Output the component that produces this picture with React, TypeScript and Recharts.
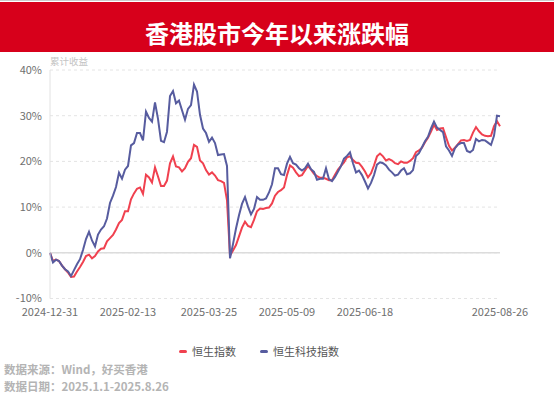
import { LineChart, Line, XAxis, YAxis, CartesianGrid, ReferenceLine, Legend } from 'recharts'

// 恒生指数 (red) and 恒生科技指数 (blue), cumulative return in %, trading days from 2024-12-31
const hsi = [
  0, -1.8, -1.5, -1.8, -2.8, -3.6, -4.3, -5.3, -5.2, -4.1,
  -3.1, -2.0, -0.7, -0.4, -1.2, -0.7, 0.3, 0.9, 1.0, 2.5,
  3.2, 3.9, 5.1, 6.5, 7.2, 9.1, 9.1, 11.7, 13.0, 14.0,
  14.3, 12.9, 17.1, 16.5, 15.4, 18.7, 16.7, 14.6, 14.6, 15.8,
  19.6, 21.1, 18.9, 18.7, 17.8, 18.5, 19.9, 20.7, 23.6, 23.2,
  20.2, 19.6, 18.1, 17.1, 17.6, 16.9, 15.9, 15.7, 15.3, 11.5,
  -0.6, 0.5, 1.7, 3.6, 5.5, 6.8, 5.9, 5.6, 7.2, 9.1,
  9.7, 9.6, 9.8, 9.9, 10.8, 12.5, 13.3, 13.7, 14.3, 17.0,
  19.1, 18.6, 17.6, 16.8, 17.0, 18.0, 19.0, 18.2, 17.3, 16.8,
  16.4, 16.4, 16.2, 15.9, 15.9, 17.1, 18.2, 19.0, 19.8, 20.9,
  21.1, 20.3, 19.7, 19.6, 18.8, 17.8, 16.5, 17.4, 19.1, 21.1,
  21.7, 21.1, 20.2, 20.5, 20.2, 19.6, 19.4, 20.0, 19.7, 19.7,
  20.1, 20.7, 22.0, 22.4, 23.0, 24.2, 25.2, 26.5, 28.0, 26.9,
  27.2, 27.3, 25.3, 23.4, 22.4, 23.0, 23.8, 24.6, 24.7, 24.5,
  24.7, 26.3, 27.5, 26.6, 25.9, 25.6, 25.5, 25.6, 27.7, 28.8,
  27.7,
]

const hstech = [
  0, -2.1, -1.5, -1.8, -2.8, -3.6, -4.1, -5.1, -3.8, -2.5,
  -1.4, 0.6, 3.0, 4.6, 2.7, 1.4, 4.0, 5.1, 5.8, 7.5,
  10.9, 12.5, 14.4, 17.5, 16.2, 18.2, 19.0, 23.5, 24.0, 26.2,
  26.2, 24.6, 30.9, 29.5, 28.7, 32.9, 29.3, 24.5, 24.2, 26.5,
  34.3, 35.4, 32.7, 33.3, 31.2, 29.1, 31.5, 32.3, 36.8, 35.3,
  30.2, 27.2, 26.2, 24.3, 25.2, 24.0, 21.4, 21.5, 21.6, 19.0,
  -1.2, 1.9, 5.3, 8.2, 10.7, 12.2, 10.1, 8.4, 9.6, 12.2,
  11.6, 11.6, 11.9, 13.2, 15.0, 18.5, 18.5, 17.2, 17.0, 19.5,
  21.0, 19.6, 19.3, 18.5, 18.0, 18.5, 19.5, 18.3, 17.7, 16.0,
  16.2, 16.2, 18.5, 16.1, 15.7, 16.6, 17.8, 19.0, 20.6, 21.2,
  22.0, 19.6, 17.6, 18.0, 17.0, 15.6, 14.1, 15.3, 17.0, 19.3,
  19.8, 19.6, 19.1, 18.2, 17.6, 16.9, 17.1, 18.0, 18.5, 17.2,
  17.4, 18.1, 21.2, 21.8, 23.1, 24.4, 25.4, 27.2, 28.7, 27.4,
  26.9, 26.4, 23.3, 22.4, 21.2, 22.9, 23.7, 24.0, 24.0, 22.3,
  22.0, 22.5, 24.9, 24.4, 24.7, 24.6, 24.1, 23.6, 25.6, 30.0,
  29.9,
]

const tickIdx = [0, 26, 53, 79, 105, 150]
const tickLabels = ['2024-12-31', '2025-02-13', '2025-03-25', '2025-05-09', '2025-06-18', '2025-08-26']
const yTicks = [-10, 0, 10, 20, 30, 40]

const RED = '#f0414f'
const BLUE = '#575c9f'
const FONT = "'Noto Sans CJK SC', 'Noto Sans', sans-serif"

const chartData = hsi.map((v, i) => ({ i, hsi: v, hstech: hstech[i] }))

function LegendContent() {
  const items = [
    { name: '恒生指数', color: RED, left: 179 },
    { name: '恒生科技指数', color: BLUE, left: 260 },
  ]
  return (
    <div style={{ position: 'relative', width: 554, height: 18, fontFamily: FONT }}>
      {items.map(it => (
        <div key={it.name} style={{ position: 'absolute', left: it.left, top: 0, display: 'flex', alignItems: 'center', height: 18 }}>
          <span style={{ display: 'inline-block', width: 8, height: 3, borderRadius: 2, background: it.color, marginRight: 5 }} />
          <span style={{ fontSize: 11, color: '#555' }}>{it.name}</span>
        </div>
      ))}
    </div>
  )
}

export default function App() {
  return (
    <div style={{ position: 'absolute', left: 0, top: 0, width: 554, height: 395, background: '#fff', fontFamily: FONT, overflow: 'hidden' }}>
      <div style={{ position: 'absolute', left: 0, top: 0, width: 554, height: 1, background: '#ccc' }} />
      <div style={{ position: 'absolute', left: 0, top: 2, width: 554, height: 50, background: '#d7001b' }} />
      <div style={{ position: 'absolute', left: 0, top: 18, width: 554, textAlign: 'center', color: '#fff', fontWeight: 700, fontSize: 24, lineHeight: '30px' }}>
        香港股市今年以来涨跌幅
      </div>
      <div style={{ position: 'absolute', left: 50, top: 55, fontSize: 9.5, color: '#c4c4c4', lineHeight: '13px' }}>累计收益</div>

      <LineChart width={554} height={395} data={chartData} margin={{ top: 70, right: 54, bottom: 66.5, left: 0 }}>
        <CartesianGrid vertical={false} strokeDasharray="3 3" stroke="#e4e4e4" />
        <XAxis
          type="number"
          dataKey="i"
          domain={[0, hsi.length - 1]}
          ticks={tickIdx}
          interval={0}
          height={30}
          tickMargin={4}
          tickFormatter={(v: number) => tickLabels[tickIdx.indexOf(v)]}
          tick={{ fontSize: 11, fill: '#6f6f6f', fontFamily: FONT }}
          axisLine={false}
          tickLine={false}
        />
        <YAxis
          domain={[-10, 40]}
          ticks={yTicks}
          width={50}
          tickFormatter={(v: number) => `${v}%`}
          tick={{ fontSize: 11, fill: '#6f6f6f', fontFamily: FONT }}
          axisLine={{ stroke: '#e2e2e2' }}
          tickLine={false}
        />
        <ReferenceLine y={0} stroke="#dcdcdc" strokeWidth={1.5} />
        <Legend layout="horizontal" verticalAlign="middle" align="center" wrapperStyle={{ left: 0, top: 342, width: 554 }} content={<LegendContent />} />
        <Line type="linear" dataKey="hsi" name="恒生指数" stroke={RED} strokeWidth={2} dot={false} isAnimationActive={false} />
        <Line type="linear" dataKey="hstech" name="恒生科技指数" stroke={BLUE} strokeWidth={2} dot={false} isAnimationActive={false} />
      </LineChart>

      <div style={{ position: 'absolute', left: 4, top: 362, fontSize: 11.5, fontWeight: 700, color: '#b4b4b4', lineHeight: '15px' }}>
        数据来源：Wind，好买香港
      </div>
      <div style={{ position: 'absolute', left: 4, top: 379, fontSize: 11.5, fontWeight: 700, color: '#b4b4b4', lineHeight: '15px' }}>
        数据日期：2025.1.1-2025.8.26
      </div>
    </div>
  )
}
